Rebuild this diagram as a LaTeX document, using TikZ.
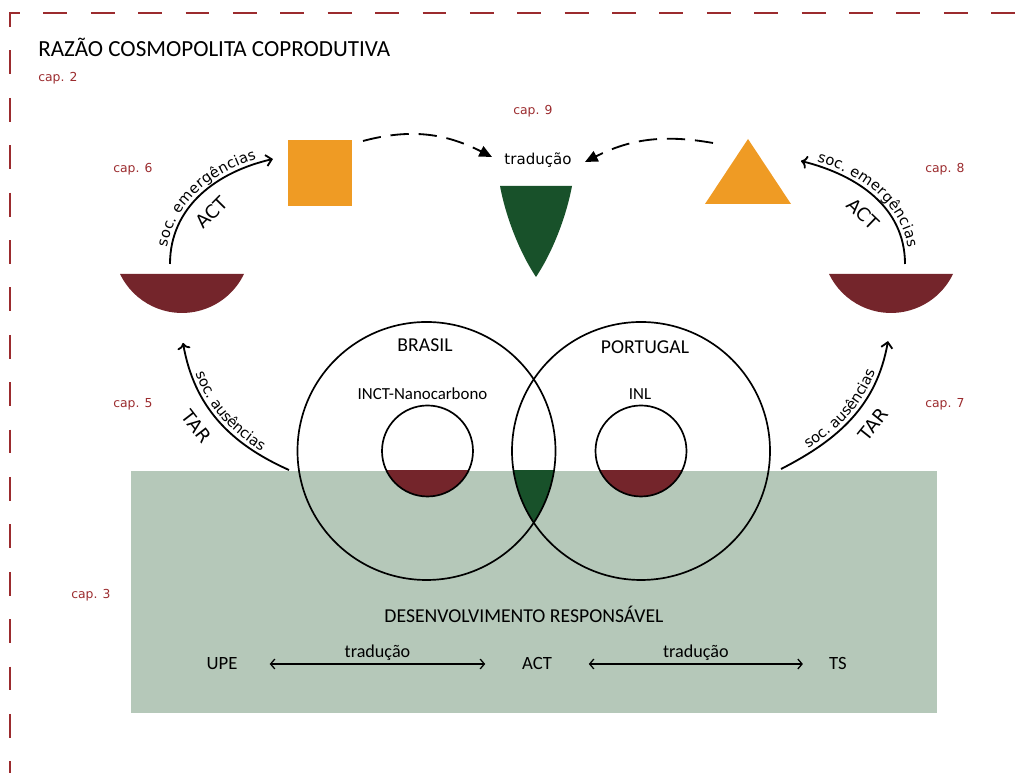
\documentclass[tikz,border=0pt]{standalone}
\usepackage{fontspec}
\setmainfont{Carlito}
\newfontfamily\capfont{DejaVu Sans}
\usepackage{tikz}
\usetikzlibrary{positioning,arrows.meta,decorations.text,calc}

\definecolor{capred}{HTML}{9B2B2E}
\definecolor{bowlred}{HTML}{74252B}
\definecolor{deepgreen}{HTML}{18512A}
\definecolor{sagegreen}{HTML}{B5C8B9}
\definecolor{ochre}{HTML}{EF9B24}

\tikzset{
  frame/.style={draw=capred, line width=1.4pt, dash pattern=on 17pt off 16.7pt},
  chapter/.style={font=\capfont\fontsize{8.8}{10}\selectfont, text=capred, inner sep=0pt, anchor=base west},
  flow/.style={line width=1.3pt, -{Straight Barb[length=4pt,width=8pt]}},
  hop/.style={line width=1.3pt, dash pattern=on 13pt off 7pt, -{Triangle[length=9pt,width=8pt]}},
  ring/.style={line width=1.2pt},
  duo/.style={line width=0.9pt, {Straight Barb[length=3pt,width=7pt]}-{Straight Barb[length=3pt,width=7pt]}},
  outer/.style={postaction={decorate, decoration={text along path, text align=center, raise=3pt,
      text={|\capfont\fontsize{10.4}{12}\selectfont|#1}}}},
  theory/.style={sloped, below=9pt, inner sep=0pt, font=\capfont\fontsize{13}{15}\selectfont},
  label/.style={inner sep=0pt, anchor=base},
  tag/.style={font=\fontsize{13.3}{15}\selectfont, inner ysep=0pt}
}

\begin{document}
\begin{tikzpicture}[x=0.025cm, y=0.025cm]
\useasboundingbox (0,0) rectangle (1033,773);

% Frame
\draw[frame] (10,746) -- (10,760) -- (1033,760);
\draw[frame, dash phase=17pt] (10,746) -- (10,0);

% Title and chapters
\node[inner sep=0pt, anchor=base west, font=\fontsize{16.4}{19}\selectfont] (title) at (38,716) {RAZÃO COSMOPOLITA COPRODUTIVA};
\node[chapter] (cap2) at (38,691) {cap. 2};
\node[chapter] (cap6) at (113,600) {cap. 6};
\node[chapter] (cap9) at (513,658) {cap. 9};
\node[chapter] (cap8) at (925,600) {cap. 8};
\node[chapter] (cap5) at (113,365) {cap. 5};
\node[chapter] (cap7) at (925,365) {cap. 7};
\node[chapter] (cap3) at (71,174) {cap. 3};

% Responsible development field
\fill[sagegreen] (131,60) rectangle (937,302);

% Shapes
\fill[ochre] (288,567) rectangle (352,633);
\fill[ochre] (705,569) -- (791,569) -- (748,634) -- cycle;
\fill[deepgreen] (500,587) -- (572,587) .. controls (566,555) and (552,520) .. (536,496)
  .. controls (520,520) and (506,555) .. (500,587) -- cycle;
\fill[bowlred] (244,499) arc[start angle=-25.7, end angle=-154.3, radius=68.8] -- cycle;
\fill[bowlred] (953,499) arc[start angle=-25.7, end angle=-154.3, radius=68.8] -- cycle;

% Circles
\coordinate (br) at (426.5,322);
\coordinate (pt) at (641,322);
\begin{scope}
  \clip (0,0) rectangle (1033,302);
  \fill[bowlred] (427.5,322) circle[radius=45.5];
  \fill[bowlred] (641,322) circle[radius=45.5];
  \clip (br) circle[radius=129];
  \fill[deepgreen] (pt) circle[radius=129];
\end{scope}
\draw[ring] (br) circle[radius=129];
\draw[ring] (pt) circle[radius=129];
\draw[ring] (427.5,322) circle[radius=45.5];
\draw[ring] (641,322) circle[radius=45.5];

\node[label, font=\fontsize{14}{16}\selectfont] (brasil) at (425,421) {BRASIL};
\node[label, font=\fontsize{14}{16}\selectfont] (portugal) at (645,419) {PORTUGAL};
\node[label, font=\fontsize{12}{14}\selectfont] (inct) at (422.5,373) {INCT-Nanocarbono};
\node[label, font=\fontsize{12}{14}\selectfont] (inl) at (640,373) {INL};

% Top translation
\node[label, font=\capfont\fontsize{10.7}{12}\selectfont] (trad) at (538,608) {tradução};
\coordinate (sqout) at (363,632);
\coordinate (trin) at (713,630);
\coordinate (tradl) at (492,616);
\coordinate (tradr) at (585,611);
\draw[hop] (sqout) to[out=15, in=153] (tradl);
\draw[hop] (trin) to[out=170, in=27] (tradr);

% Curved arrows
\coordinate (ul0) at (170,509);
\coordinate (ul1) at (273,614);
\coordinate (ur0) at (905,509);
\coordinate (ur1) at (801,612);
\coordinate (ll0) at (289,303);
\coordinate (ll1) at (183,430);
\coordinate (lr0) at (781,304);
\coordinate (lr1) at (888,432);
\draw[flow, outer=soc. emergências] (ul0) to[out=90, in=193] node[theory, pos=0.47] (actl) {ACT} (ul1);
\draw[flow, <-, outer=soc. emergências] (ur1) to[out=-14, in=90] node[theory, pos=0.53] (actr) {ACT} (ur0);
\draw[flow, <-, outer=soc. ausências] (ll1) to[out=-80, in=156] node[theory, pos=0.45] (tarl) {TAR} (ll0);
\draw[flow, outer=soc. ausências] (lr0) to[out=27, in=-100] node[theory, pos=0.55] (tarr) {TAR} (lr1);

% Bottom row
\node[label, font=\fontsize{14}{16}\selectfont] (desenv) at (524,150) {DESENVOLVIMENTO RESPONSÁVEL};
\node[tag, inner xsep=22.8pt] (upe) at (222,109) {UPE};
\node[tag, inner xsep=26pt] (act) at (537,109) {ACT};
\node[tag, inner xsep=18.5pt] (ts) at (838,109) {TS};
\draw[duo] (upe.east) -- node[midway, above=1pt, inner sep=1pt, font=\fontsize{12.9}{14}\selectfont] (t1) {tradução} (act.west);
\draw[duo] (act.east) -- node[midway, above=1pt, inner sep=1pt, font=\fontsize{12.9}{14}\selectfont] (t2) {tradução} (ts.west);
\end{tikzpicture}
\end{document}
